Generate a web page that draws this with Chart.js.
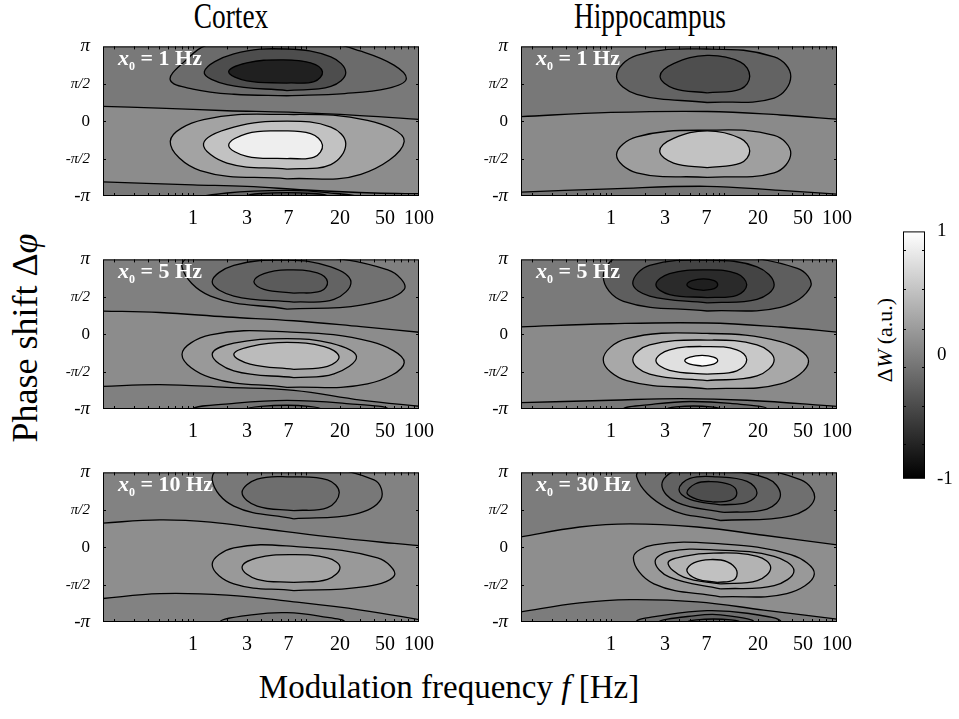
<!DOCTYPE html>
<html>
<head>
<meta charset="utf-8">
<script src="https://cdn.jsdelivr.net/npm/chart.js@4.4.0/dist/chart.umd.min.js"></script>
<style>
  body { margin: 0; background: #fff; width: 959px; height: 719px; position: relative; overflow: hidden;
         font-family: "Liberation Serif", "Times New Roman", serif; }
  canvas { position: absolute; }
  .t { position: absolute; white-space: nowrap; color: #000; line-height: 1; }
  .title { transform: scaleX(0.76); transform-origin: center; }
  .rot { transform: translate(-50%, -50%) rotate(-90deg); }
  .lab { position: absolute; color: #fff; font-weight: bold; font-size: 22px; line-height: 1; white-space: nowrap; }
  .lab sub { font-size: 12px; vertical-align: -5px; }
</style>
</head>
<body>
<div class="t title" style="left:81px;top:-2px;width:300px;text-align:center;font-size:36px">Cortex</div>
<div class="t title" style="left:500px;top:-2px;width:300px;text-align:center;font-size:36px">Hippocampus</div>
<div class="t rot" style="left:25px;top:338px;font-size:36px">Phase shift Δ<i>φ</i></div>
<div class="t" style="left:149px;top:671px;width:600px;text-align:center;font-size:33px">Modulation frequency <i>f</i> [Hz]</div>
<div class="t rot" style="left:885px;top:340px;font-size:22px">Δ<i>W</i> (a.u.)</div>
<script>
// ===== axes =====
const xTickVals = [1, 3, 7, 20, 50, 100];
const xTickLabels = ["1", "3", "7", "20", "50", "100"];
const xMinorTicks = [0.2, 0.3, 0.4, 0.5, 0.6, 0.7, 0.8, 0.9, 1, 2, 3, 4, 5, 6, 7, 8, 9, 10, 20, 30, 40, 50, 60, 70, 80, 90];
const yTickVals = [-1, -0.5, 0, 0.5, 1];               // phase in units of pi
const yTickLabels = ["-π", "-π/2", "0", "π/2", "π"];
const cbTickVals = [-1, 0, 1];
const cbTickLabels = ["-1", "0", "1"];
const cbMinorTicks = [0.85, 0.53, 0.21, -0.1, -0.41, -0.72];
const x0Values = [1, 1, 5, 5, 10, 30];

// ===== contour data: [frequency Hz, phase/pi], levels are dW =====
// bands: [above upper line, middle, below lower line]
const c1Bands = [-0.05, 0.10, -0.05];
const c1Upper = [[0.15, 0.2], [0.5, 0.175], [2, 0.14], [7, 0.12], [30, 0.075], [110, 0.02]];
const c1Lower = [[0.15, -0.81], [1, -0.85], [3, -0.87], [10, -0.92], [40, -0.96], [110, -0.97]];
const c1Loops = [
  [-0.16, [[0.63, 0.55], [1.0, 0.43], [2.3, 0.36], [6.8, 0.34], [22, 0.37], [53, 0.44], [77, 0.56], [60, 0.75], [30, 0.94], [13, 1.08], [4, 1.1], [1.4, 1.03], [0.83, 0.79]]],
  [-0.40, [[1.26, 0.66], [2.0, 0.49], [6.8, 0.41], [16.6, 0.465], [22.5, 0.65], [16.6, 0.86], [6.8, 0.965], [2.3, 0.9]]],
  [-0.75, [[2.07, 0.66], [3.0, 0.54], [6.8, 0.51], [11.8, 0.53], [14, 0.66], [11, 0.78], [6.0, 0.82], [3.0, 0.78]]],
  [0.28, [[0.63, -0.27], [1.16, -0.66], [6.8, -0.77], [30.6, -0.71], [74, -0.27], [35, 0.01], [6.8, 0.09], [1.24, 0.02]]],
  [0.52, [[1.24, -0.3], [2.0, -0.56], [6.8, -0.64], [16.6, -0.58], [22.5, -0.3], [16.6, -0.08], [6.8, 0.0], [2.3, -0.08]]],
  [0.87, [[2.07, -0.32], [3.0, -0.47], [6.8, -0.5], [11.8, -0.48], [14, -0.32], [11, -0.165], [5.6, -0.13], [3.0, -0.165]]],
  [-0.16, [[0.95, -1.06], [2.0, -0.96], [6.8, -0.925], [15.5, -0.955], [30.6, -1.035], [15, -1.2], [6.8, -1.25], [2, -1.2]]],
  [-0.40, [[3.0, -1.0], [6.8, -0.955], [15.5, -1.0], [6.8, -1.1]]]
];

const h1Bands = [-0.06, 0.08, -0.08];
const h1Upper = [[0.15, 0.06], [1, 0.117], [7.1, 0.13], [31.6, 0.083], [110, 0.022]];
const h1Lower = [[0.15, -0.95], [1, -0.904], [7.1, -0.87], [31.6, -0.926], [110, -0.978]];
const h1Loops = [
  [-0.22, [[1.12, 0.6], [1.69, 0.36], [7.1, 0.25], [27.8, 0.31], [39, 0.6], [27.8, 0.86], [7.1, 0.965], [1.69, 0.88]]],
  [-0.39, [[2.72, 0.6], [3.58, 0.44], [7.1, 0.38], [14, 0.43], [16.9, 0.6], [14, 0.79], [7.1, 0.88], [3.58, 0.77]]],
  [0.25, [[1.12, -0.45], [1.69, -0.69], [7.1, -0.75], [27.8, -0.69], [39, -0.43], [27.8, -0.19], [7.1, -0.12], [1.69, -0.21]]],
  [0.52, [[2.7, -0.4], [3.58, -0.56], [7.1, -0.62], [14, -0.56], [16.9, -0.4], [14, -0.23], [7.1, -0.13], [3.58, -0.23]]]
];

const c5Bands = [0.0, 0.10, 0.0];
const c5Upper = [[0.15, 0.31], [0.51, 0.29], [2, 0.23], [7.8, 0.18], [30.6, 0.1], [110, 0.02]];
const c5Lower = [[0.15, -0.7], [0.51, -0.675], [2, -0.71], [7.8, -0.75], [30.6, -0.88], [110, -0.97]];
const c5Loops = [
  [-0.11, [[0.8, 0.9], [1.43, 0.51], [6.8, 0.335], [30.6, 0.39], [74, 0.6], [53, 0.86], [7.8, 1.07], [1.16, 1.1]]],
  [-0.22, [[1.48, 0.7], [2.3, 0.51], [7.8, 0.43], [17.7, 0.465], [25, 0.7], [16.6, 0.9], [6.8, 0.99], [2.3, 0.92]]],
  [-0.29, [[3.46, 0.7], [4.25, 0.6], [7.8, 0.55], [13.5, 0.575], [15.5, 0.7], [12.6, 0.82], [6.8, 0.86], [4.25, 0.81]]],
  [0.20, [[0.8, -0.27], [1.43, -0.58], [6.8, -0.71], [35, -0.665], [74, -0.38], [37.6, -0.1], [6.8, 0.03], [1.43, -0.01]]],
  [0.32, [[1.48, -0.27], [2.3, -0.49], [7.8, -0.58], [17.7, -0.53], [28, -0.3], [16.6, -0.12], [6.8, -0.06], [2.3, -0.12]]],
  [0.47, [[2.3, -0.27], [3.2, -0.4], [7.8, -0.47], [15.5, -0.43], [19.6, -0.3], [14.5, -0.165], [6.8, -0.11], [3.2, -0.165]]],
  [-0.10, [[1, -1.0], [2.3, -0.925], [6.8, -0.885], [21.8, -0.925], [53, -1.0], [20, -1.15], [6.8, -1.2], [2, -1.15]]],
  [-0.17, [[3, -1.0], [6.8, -0.95], [13.5, -1.0], [6.8, -1.1]]]
];

const h5Bands = [-0.04, 0.08, -0.06];
const h5Upper = [[0.15, 0.096], [1, 0.14], [7.1, 0.15], [31.6, 0.096], [110, 0.022]];
const h5Lower = [[0.15, -0.917], [1, -0.883], [4.1, -0.861], [16, -0.883], [110, -0.97]];
const h5Loops = [
  [-0.26, [[0.855, 0.77], [1.29, 0.44], [7.1, 0.31], [31.6, 0.36], [58.5, 0.64], [44.6, 0.88], [8.1, 1.07], [1.29, 1.07]]],
  [-0.47, [[1.56, 0.68], [2.2, 0.51], [7.1, 0.42], [19.6, 0.465], [27.8, 0.66], [19.6, 0.9], [7.1, 0.99], [2.2, 0.92]]],
  [-0.67, [[2.5, 0.66], [3.3, 0.53], [7.1, 0.49], [13, 0.52], [15.9, 0.66], [13, 0.81], [7.1, 0.86], [3.3, 0.81]]],
  [-0.76, [[4.7, 0.66], [5.2, 0.61], [6.6, 0.585], [8.2, 0.61], [8.8, 0.66], [8.2, 0.715], [6.6, 0.74], [5.2, 0.715]]],
  [0.32, [[0.855, -0.34], [1.38, -0.62], [7.1, -0.73], [31.6, -0.665], [56, -0.36], [31.6, -0.1], [7.1, 0.01], [1.38, -0.06]]],
  [0.57, [[1.56, -0.34], [2.2, -0.535], [7.1, -0.62], [19.6, -0.557], [27.8, -0.34], [19.6, -0.143], [7.1, -0.078], [2.2, -0.143]]],
  [0.76, [[2.5, -0.352], [3.3, -0.483], [7.1, -0.535], [13, -0.491], [15.9, -0.34], [13, -0.209], [7.1, -0.165], [3.3, -0.209]]],
  [0.96, [[4.5, -0.352], [5.0, -0.4], [6.4, -0.426], [8.1, -0.4], [8.8, -0.352], [8.1, -0.305], [6.4, -0.283], [5.0, -0.305]]],
  [-0.15, [[1.29, -1.0], [2.4, -0.935], [5, -0.9], [11.4, -0.926], [24, -1.0], [11, -1.15], [5, -1.18], [2.4, -1.12]]],
  [-0.25, [[3.1, -1.0], [5.4, -0.96], [9.3, -1.0], [5.4, -1.08]]]
];

const c10Bands = [0.02, 0.11, 0.02];
const c10Upper = [[0.15, 0.32], [0.51, 0.365], [1.43, 0.335], [4, 0.25], [15.5, 0.14], [60.5, 0.05], [110, 0.017]];
const c10Lower = [[0.15, -0.69], [0.51, -0.62], [2, -0.64], [7.8, -0.73], [30.6, -0.84], [110, -0.978]];
const c10Loops = [
  [-0.06, [[1.48, 0.9], [2.3, 0.55], [7.8, 0.38], [26.7, 0.44], [46, 0.64], [40, 0.9], [7.8, 1.12], [2.0, 1.12]]],
  [-0.14, [[2.72, 0.73], [3.7, 0.55], [7.8, 0.49], [15.5, 0.53], [19.7, 0.73], [15.5, 0.9], [7.3, 0.94], [3.7, 0.91]]],
  [0.20, [[1.48, -0.23], [2.3, -0.49], [7.8, -0.58], [30.6, -0.535], [60.5, -0.38], [43, -0.143], [7.8, 0.01], [2.3, -0.01]]],
  [0.30, [[2.72, -0.27], [3.7, -0.43], [7.8, -0.47], [15.5, -0.43], [20, -0.27], [15.5, -0.143], [7.3, -0.1], [3.7, -0.143]]],
  [-0.07, [[1.75, -1.0], [3.46, -0.9], [6.8, -0.875], [13.5, -0.925], [21.8, -1.0], [10, -1.15], [4, -1.15]]]
];

const h30Bands = [-0.03, 0.11, -0.03];
const h30Upper = [[0.15, 0.13], [0.53, 0.27], [1.48, 0.313], [5.8, 0.27], [22.5, 0.16], [110, 0.022]];
const h30Lower = [[0.15, -0.87], [0.53, -0.743], [1.48, -0.7], [5.8, -0.73], [22.5, -0.84], [110, -0.97]];
const h30Loops = [
  [-0.13, [[1.69, 0.94], [3.1, 0.53], [9.3, 0.357], [39, 0.42], [63, 0.64], [48, 0.9], [9.3, 1.12], [2.4, 1.12]]],
  [-0.23, [[2.82, 0.835], [3.83, 0.6], [10, 0.465], [24, 0.51], [31.6, 0.7], [24, 0.92], [8.1, 1.03], [3.83, 1.03]]],
  [-0.31, [[4.0, 0.77], [5.0, 0.64], [9.3, 0.565], [16, 0.6], [19.6, 0.726], [16, 0.88], [8.7, 0.94], [5.0, 0.92]]],
  [-0.39, [[4.7, 0.726], [5.8, 0.64], [8.1, 0.604], [11.4, 0.626], [13, 0.726], [11.4, 0.835], [7.6, 0.878], [5.6, 0.848]]],
  [0.20, [[1.58, -0.14], [2.4, -0.49], [9.3, -0.665], [36, -0.62], [63, -0.36], [39, -0.1], [8.1, 0.05], [2.4, 0.03]]],
  [0.29, [[2.46, -0.19], [3.3, -0.4], [9.3, -0.557], [27.8, -0.513], [41.6, -0.317], [27.8, -0.122], [8.1, -0.035], [3.3, -0.057]]],
  [0.40, [[3.2, -0.21], [4.4, -0.4], [9.3, -0.49], [19.7, -0.448], [25.9, -0.274], [19.7, -0.122], [8.1, -0.078], [4.4, -0.122]]],
  [0.51, [[4.7, -0.317], [5.8, -0.426], [8.7, -0.47], [12.2, -0.439], [13, -0.317], [10.7, -0.196], [7.6, -0.165], [5.4, -0.209]]],
  [-0.13, [[1.69, -1.0], [3.1, -0.904], [7.1, -0.848], [16, -0.883], [31.6, -1.0], [12, -1.2], [4, -1.2]]],
  [-0.23, [[2.7, -1.0], [5.4, -0.917], [9.3, -0.904], [18.4, -1.0], [8, -1.12]]],
  [-0.31, [[4.7, -1.0], [8.1, -0.96], [14, -1.0], [8, -1.07]]]
];

// ===== layout (frame boxes) =====
const FW = 316, FH = 154;
const PADL = 50, PADR = 26, PADT = 12, PADB = 34;
const panels = [
  { left: 103, top: 42,  bands: c1Bands,  upper: c1Upper,  lower: c1Lower,  loops: c1Loops },
  { left: 521, top: 42,  bands: h1Bands,  upper: h1Upper,  lower: h1Lower,  loops: h1Loops },
  { left: 103, top: 255, bands: c5Bands,  upper: c5Upper,  lower: c5Lower,  loops: c5Loops },
  { left: 521, top: 255, bands: h5Bands,  upper: h5Upper,  lower: h5Lower,  loops: h5Loops },
  { left: 103, top: 468, bands: c10Bands, upper: c10Upper, lower: c10Lower, loops: c10Loops },
  { left: 521, top: 468, bands: h30Bands, upper: h30Upper, lower: h30Lower, loops: h30Loops },
];

const SERIF = '"Liberation Serif", "Times New Roman", serif';
// colour map of the colour bar: -1 black .. 1 white
const gray = (v) => { const g = Math.round((v + 1) / 2 * 255); return `rgb(${g},${g},${g})`; };

const framePlugin = {
  id: "frame",
  afterDraw(chart, args, opts) {
    const { ctx, chartArea: a, scales } = chart;
    ctx.save();
    ctx.strokeStyle = "#000";
    ctx.lineWidth = 1;
    ctx.beginPath();
    const xs = opts.xMinor || [], ys = opts.yMinor || [];
    xs.forEach((v) => {
      const px = Math.round(scales.x.getPixelForValue(v)) + 0.5;
      ctx.moveTo(px, a.bottom); ctx.lineTo(px, a.bottom - 3);
      ctx.moveTo(px, a.top); ctx.lineTo(px, a.top + 3);
    });
    ys.forEach((v) => {
      const py = Math.round(scales.y.getPixelForValue(v)) + 0.5;
      ctx.moveTo(a.left, py); ctx.lineTo(a.left + 3, py);
      ctx.moveTo(a.right, py); ctx.lineTo(a.right - 3, py);
    });
    ctx.stroke();
    ctx.strokeRect(a.left + 0.5, a.top + 0.5, a.right - a.left - 1, a.bottom - a.top - 1);
    ctx.restore();
  },
};

function makePanel(p, i) {
  const cv = document.createElement("canvas");
  cv.width = FW + PADL + PADR;
  cv.height = FH + PADT + PADB;
  cv.style.left = (p.left - PADL) + "px";
  cv.style.top = (p.top - PADT) + "px";
  document.body.appendChild(cv);

  const datasets = [];
  let k = 0;
  const add = (pts, level, fill, closed) => {
    let ring = pts;
    if (closed) {
      // start each closed contour at its lowest point so the join is where the curve is flat
      const s = pts.reduce((m, q, j) => (q[1] < pts[m][1] ? j : m), 0);
      ring = pts.slice(s).concat(pts.slice(0, s + 1));
    }
    datasets.push({
      data: ring.map((q) => ({ x: q[0], y: q[1] })),
      fill, backgroundColor: gray(level), borderColor: "#000", borderWidth: 1.3,
      pointRadius: 0, tension: 0.4, order: -(k++),
    });
  };
  add(p.upper, p.bands[0], "end", false);
  add(p.lower, p.bands[2], "start", false);
  p.loops.forEach(([lvl, pts]) => add(pts, lvl, "shape", true));

  const midColor = gray(p.bands[1]);
  new Chart(cv, {
    type: "line",
    data: { datasets },
    options: {
      responsive: false,
      animation: false,
      layout: { padding: { top: PADT, right: PADR, left: 0, bottom: 0 } },
      scales: {
        x: {
          type: "logarithmic", min: 0.16, max: 100,
          grid: { display: false }, border: { display: false },
          afterBuildTicks: (s) => { s.ticks = xTickVals.map((v) => ({ value: v })); },
          afterFit: (s) => { s.height = PADB; },
          ticks: {
            autoSkip: false, maxRotation: 0, minRotation: 0, padding: 3, color: "#000",
            font: { family: SERIF, size: 20 },
            callback: (v, idx) => xTickLabels[idx],
          },
        },
        y: {
          type: "linear", min: -1, max: 1,
          grid: { display: false }, border: { display: false },
          afterBuildTicks: (s) => { s.ticks = yTickVals.map((v) => ({ value: v })); },
          afterFit: (s) => { s.width = PADL; },
          ticks: {
            padding: 5, color: "#000",
            font: (c) => {
              const lab = yTickLabels[c.index] || "";
              if (lab.includes("/")) return { family: SERIF, size: 15, style: "italic" };
              if (lab.includes("π")) return { family: SERIF, size: 19, style: "italic" };
              return { family: SERIF, size: 17 };
            },
            callback: (v, idx) => yTickLabels[idx],
          },
        },
      },
      plugins: {
        legend: { display: false },
        tooltip: { enabled: false },
        frame: { xMinor: xMinorTicks, yMinor: [-0.5, 0, 0.5] },
      },
    },
    plugins: [{
      id: "bg",
      beforeDraw(chart) {
        const { ctx, chartArea: a } = chart;
        ctx.save(); ctx.fillStyle = midColor;
        ctx.fillRect(a.left, a.top, a.right - a.left, a.bottom - a.top);
        ctx.restore();
      },
    }, framePlugin],
  });

  const lab = document.createElement("div");
  lab.className = "lab";
  lab.style.left = (p.left + 15) + "px";
  lab.style.top = (p.top + 5) + "px";
  lab.innerHTML = `<i>x</i><sub>0</sub> = ${x0Values[i]} Hz`;
  document.body.appendChild(lab);
}

panels.forEach(makePanel);

// ===== colour bar =====
const CB = { left: 903, top: 226, w: 22, h: 258 };
const cbCanvas = document.createElement("canvas");
cbCanvas.width = CB.w + 34;
cbCanvas.height = CB.h + 20;
cbCanvas.style.left = CB.left + "px";
cbCanvas.style.top = (CB.top - 10) + "px";
document.body.appendChild(cbCanvas);

new Chart(cbCanvas, {
  type: "bar",
  data: {
    labels: ["ΔW"],
    datasets: [{
      data: [[-1, 1]],
      barPercentage: 1, categoryPercentage: 1, borderWidth: 0,
      backgroundColor: (c) => {
        const a = c.chart.chartArea;
        if (!a) return "#888";
        const g = c.chart.ctx.createLinearGradient(0, a.bottom, 0, a.top);
        g.addColorStop(0, gray(-1));
        g.addColorStop(0.5, gray(0));
        g.addColorStop(1, gray(1));
        return g;
      },
    }],
  },
  options: {
    responsive: false,
    animation: false,
    layout: { padding: { top: 10, bottom: 10, left: 0, right: 0 } },
    scales: {
      x: { display: false },
      y: {
        position: "right", min: -1, max: 1,
        grid: { display: false }, border: { display: false },
        afterBuildTicks: (s) => { s.ticks = cbTickVals.map((v) => ({ value: v })); },
        afterFit: (s) => { s.width = 34; },
        ticks: { padding: 4, color: "#000", font: { family: SERIF, size: 19 }, callback: (v, idx) => cbTickLabels[idx] },
      },
    },
    plugins: {
      legend: { display: false },
      tooltip: { enabled: false },
      frame: { yMinor: cbMinorTicks },
    },
  },
  plugins: [framePlugin],
});
</script>
</body>
</html>
